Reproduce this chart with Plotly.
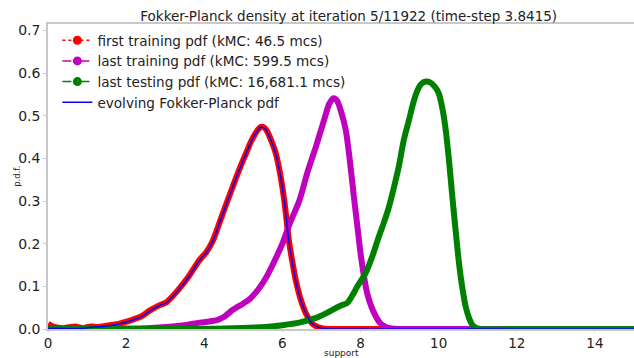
import plotly.graph_objects as go

# first training pdf (red)
x_first = [0.0, 0.15, 0.4, 0.7, 0.9, 1.1, 1.3, 1.5, 1.8, 2.17, 2.4, 2.6, 2.86, 3.02, 3.2, 3.37, 3.6, 3.88, 4.05, 4.21, 4.45, 4.73, 4.9, 5.07, 5.2, 5.3, 5.38, 5.45, 5.52, 5.6, 5.7, 5.83, 5.95, 6.05, 6.17, 6.25, 6.34, 6.45, 6.6, 6.75, 6.87, 7.0, 7.2, 7.4, 8.0, 10.0, 15.0]
y_first = [0.012, 0.005, 0.002, 0.006, 0.002, 0.006, 0.005, 0.008, 0.012, 0.022, 0.03, 0.043, 0.056, 0.062, 0.078, 0.096, 0.123, 0.162, 0.18, 0.205, 0.265, 0.334, 0.375, 0.412, 0.44, 0.457, 0.468, 0.474, 0.473, 0.465, 0.445, 0.412, 0.36, 0.3, 0.205, 0.16, 0.115, 0.075, 0.037, 0.014, 0.006, 0.002, 0.0, 0.0, 0.0, 0.0, 0.0]

# last training pdf (magenta)
x_last_train = [0.0, 1.0, 2.0, 2.5, 3.02, 3.5, 3.88, 4.3, 4.5, 4.73, 5.0, 5.16, 5.4, 5.58, 5.8, 6.0, 6.2, 6.43, 6.65, 6.86, 7.0, 7.1, 7.2, 7.31, 7.4, 7.5, 7.62, 7.72, 7.83, 7.92, 8.0, 8.08, 8.17, 8.28, 8.39, 8.5, 8.64, 8.8, 9.0, 10.0, 15.0]
y_last_train = [0.0, 0.0, 0.001, 0.002, 0.005, 0.009, 0.015, 0.02, 0.028, 0.045, 0.06, 0.07, 0.095, 0.12, 0.16, 0.2, 0.25, 0.3, 0.37, 0.428, 0.47, 0.5, 0.528, 0.541, 0.535, 0.51, 0.467, 0.4, 0.31, 0.24, 0.178, 0.128, 0.084, 0.052, 0.03, 0.014, 0.005, 0.001, 0.0, 0.0, 0.0]

# last testing pdf (green)
x_last_test = [0.0, 3.0, 4.5, 5.58, 6.0, 6.43, 6.86, 7.1, 7.28, 7.5, 7.66, 7.8, 7.92, 8.13, 8.3, 8.47, 8.6, 8.73, 8.85, 8.98, 9.1, 9.24, 9.35, 9.45, 9.55, 9.67, 9.78, 9.9, 10.0, 10.1, 10.18, 10.27, 10.35, 10.44, 10.52, 10.6, 10.69, 10.78, 10.86, 10.95, 11.05, 12.0, 15.0]
y_last_test = [0.0, 0.0, 0.001, 0.005, 0.009, 0.015, 0.026, 0.036, 0.045, 0.055, 0.061, 0.08, 0.1, 0.131, 0.17, 0.217, 0.25, 0.287, 0.33, 0.381, 0.44, 0.49, 0.53, 0.558, 0.574, 0.58, 0.578, 0.568, 0.553, 0.515, 0.467, 0.39, 0.31, 0.225, 0.155, 0.1, 0.053, 0.025, 0.01, 0.003, 0.0, 0.0, 0.0]

# evolving Fokker-Planck pdf (blue) follows the first training pdf
x_fp = [0.0, 0.4, 0.9, 1.1, 1.3, 1.5, 1.8, 2.17, 2.4, 2.6, 2.86, 3.02, 3.2, 3.37, 3.6, 3.88, 4.05, 4.21, 4.45, 4.73, 4.9, 5.07, 5.2, 5.3, 5.38, 5.45, 5.52, 5.6, 5.7, 5.83, 5.95, 6.05, 6.17, 6.25, 6.34, 6.45, 6.6, 6.75, 6.87, 7.0, 7.2, 7.4, 8.0, 10.0, 15.0]
y_fp = [0.001, 0.001, 0.001, 0.004, 0.005, 0.007, 0.011, 0.021, 0.029, 0.042, 0.055, 0.061, 0.077, 0.095, 0.122, 0.161, 0.179, 0.204, 0.264, 0.333, 0.374, 0.411, 0.439, 0.456, 0.467, 0.473, 0.472, 0.464, 0.444, 0.411, 0.359, 0.299, 0.204, 0.159, 0.114, 0.074, 0.037, 0.014, 0.006, 0.002, 0.0, 0.0, 0.0, 0.0, 0.0]

labels = ["first training pdf (kMC: 46.5 mcs)",
          "last training pdf (kMC: 599.5 mcs)",
          "last testing pdf (kMC: 16,681.1 mcs)",
          "evolving Fokker-Planck pdf"]

RED, MAG, GRN, BLU = "#ff0000", "#bf00bf", "#008000", "#0000ff"
FONT = "DejaVu Sans"

fig = go.Figure()
fig.add_trace(go.Scatter(x=x_first, y=y_first, mode="lines",
                         line=dict(color=RED, width=6, shape="spline", smoothing=0.8),
                         showlegend=False, hoverinfo="skip"))
fig.add_trace(go.Scatter(x=x_last_train, y=y_last_train, mode="lines",
                         line=dict(color=MAG, width=6, shape="spline", smoothing=0.8),
                         showlegend=False, hoverinfo="skip"))
fig.add_trace(go.Scatter(x=x_last_test, y=y_last_test, mode="lines",
                         line=dict(color=GRN, width=6, shape="spline", smoothing=0.8),
                         showlegend=False, hoverinfo="skip"))
fig.add_trace(go.Scatter(x=x_fp, y=y_fp, mode="lines",
                         line=dict(color=BLU, width=1.5, shape="spline", smoothing=0.8),
                         showlegend=False, hoverinfo="skip"))

# legend entries
fig.add_trace(go.Scatter(x=[None], y=[None], mode="lines+markers", name=labels[0],
                         line=dict(color=RED, width=1.5, dash="dot"), marker=dict(size=9, color=RED)))
fig.add_trace(go.Scatter(x=[None], y=[None], mode="lines+markers", name=labels[1],
                         line=dict(color=MAG, width=1.5, dash="dashdot"), marker=dict(size=9, color=MAG)))
fig.add_trace(go.Scatter(x=[None], y=[None], mode="lines+markers", name=labels[2],
                         line=dict(color=GRN, width=1.5, dash="dash"), marker=dict(size=9, color=GRN)))
fig.add_trace(go.Scatter(x=[None], y=[None], mode="lines", name=labels[3],
                         line=dict(color=BLU, width=1.5)))

fig.update_layout(
    width=634, height=358,
    margin=dict(l=48, r=0, t=24, b=29),
    paper_bgcolor="white", plot_bgcolor="white",
    font=dict(family=FONT, color="#222222"),
    title=dict(text="Fokker-Planck density at iteration 5/11922 (time-step 3.8415)",
               x=0.55, xanchor="center", y=0.968, yanchor="top",
               font=dict(size=13.5, family=FONT, color="#222222")),
    legend=dict(x=0.016, y=0.997, xanchor="left", yanchor="top",
                bgcolor="rgba(255,255,255,0)", borderwidth=0,
                font=dict(size=13.6, family=FONT, color="#222222"),
                itemwidth=30, tracegroupgap=0),
    xaxis=dict(range=[0, 15], tickvals=[0, 2, 4, 6, 8, 10, 12, 14], automargin=False,
               showgrid=False, zeroline=False, showline=True, linecolor="#c8c8c8", linewidth=1.5,
               mirror=True, ticks="outside", ticklen=1, tickcolor="#c8c8c8",
               tickfont=dict(size=13.5, family=FONT, color="#222222")),
    yaxis=dict(range=[0, 0.715], tickvals=[0, 0.1, 0.2, 0.3, 0.4, 0.5, 0.6, 0.7], tickformat=".1f",
               automargin=False,
               showgrid=False, zeroline=False, showline=True, linecolor="#c8c8c8", linewidth=1.5,
               mirror=True, ticks="outside", ticklen=3, tickcolor="#c8c8c8",
               tickfont=dict(size=14, family=FONT, color="#222222")),
    annotations=[
        dict(text="support", xref="paper", yref="paper", x=0.5, y=-0.079,
             xanchor="center", yanchor="middle", showarrow=False,
             font=dict(size=9, family=FONT, color="#222222")),
        dict(text="p.d.f.", xref="paper", yref="paper", x=-0.054, y=0.5,
             xanchor="center", yanchor="middle", textangle=-90, showarrow=False,
             font=dict(size=8.5, family=FONT, color="#222222")),
    ],
)

fig.write_html("out.html")
